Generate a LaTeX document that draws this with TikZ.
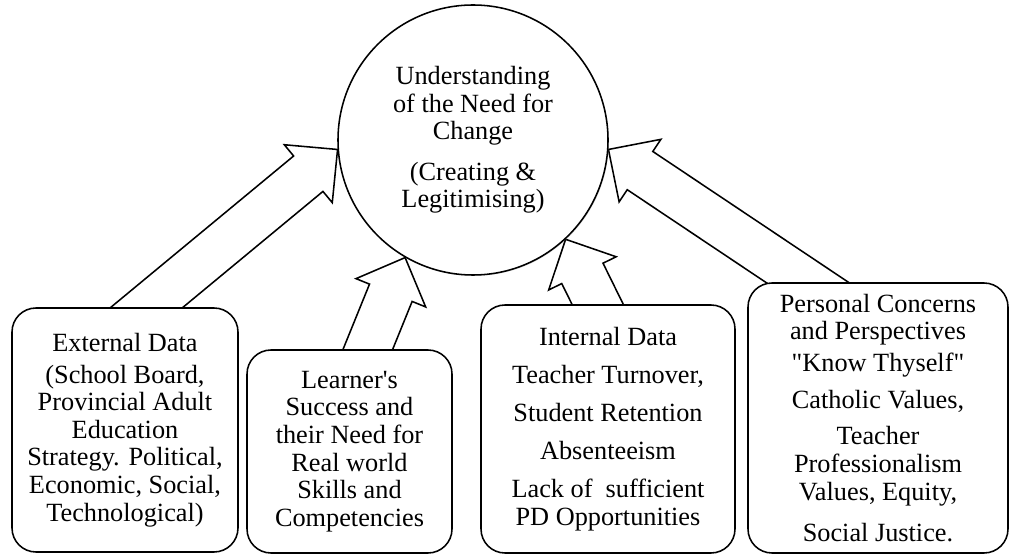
\documentclass[tikz,border=0pt]{standalone}
\usepackage{fontspec}
\setmainfont{Liberation Serif}
\usetikzlibrary{calc,backgrounds,shadows}

% sizes of the block arrows
\newcommand{\arrowshaft}{0.575cm}
\newcommand{\arrowhead}{0.94cm}
\newcommand{\arrowheadlen}{0.95cm}
% block arrow: #1 = where it leaves the box, #2 = tip on the circle
\newcommand{\blockarrow}[2]{%
  \coordinate (ba-base) at ($(#1)!-1.5cm!(#2)$);
  \coordinate (ba-neck) at ($(#2)!\arrowheadlen!(#1)$);
  \draw[blockarrow] ($(ba-base)!\arrowshaft!90:(#2)$)
    -- ($(ba-neck)!\arrowshaft!-90:(#1)$)
    -- ($(ba-neck)!\arrowhead!-90:(#1)$)
    -- (#2)
    -- ($(ba-neck)!\arrowhead!90:(#1)$)
    -- ($(ba-neck)!\arrowshaft!90:(#1)$)
    -- ($(ba-base)!\arrowshaft!-90:(#2)$) -- cycle;
}

\begin{document}
\begin{tikzpicture}[
  goalcircle/.style={draw,circle,line width=1.1pt,fill=white,minimum size=6.75cm,
    inner sep=0pt,align=center,
    drop shadow={shadow xshift=0.7pt,shadow yshift=-0.7pt,opacity=0.25}},
  factorbox/.style={draw,rounded corners=0.6cm,line width=1.1pt,fill=white,
    align=center,inner sep=0pt},
  blockarrow/.style={draw,line width=1.1pt,line join=miter,fill=white},
  font=\fontsize{18.7}{19.6}\selectfont
]
  \useasboundingbox (0,0) rectangle (25.25,13.85);

  % centre
  \node[goalcircle] (goal) at (11.825,10.35) {
    Understanding\\of the Need for\\Change\\[9pt](Creating \&\\Legitimising)
  };

  % the four sources
  \node[factorbox,minimum width=5.65cm,minimum height=6.1cm] (ext) at (3.125,3.1) {
    External Data\\[3pt](School Board,\\Provincial Adult\\Education\\
    Strategy. Political,\\Economic, Social,\\Technological)
  };
  \node[factorbox,minimum width=5.125cm,minimum height=5.075cm] (learn) at (8.7375,2.5625) {
    Learner\textquotesingle s\\Success and\\their Need for\\Real world\\
    Skills and\\Competencies
  };
  \node[factorbox,minimum width=6.35cm,minimum height=6.2cm] (int) at (15.2,3.125) {
    Internal Data\\[7.5pt]Teacher Turnover,\\[7.5pt]Student Retention\\[7.5pt]
    Absenteeism\\[7.5pt]Lack of\ \ sufficient\\PD Opportunities
  };
  \node[factorbox,minimum width=6.5cm,minimum height=6.75cm] (pers) at (21.95,3.4) {
    Personal Concerns\\and Perspectives\\[3pt]\textquotedbl Know Thyself\textquotedbl\\[6.5pt]
    Catholic Values,\\[6.5pt]Teacher\\Professionalism\\Values, Equity,\\[10pt]
    Social Justice.
  };

  % arrows into the circle
  \coordinate (ext-out) at ($(ext.north)+(0.55,0)$);
  \coordinate (learn-out) at ($(learn.north)+(0.46,0)$);
  \coordinate (int-out) at ($(int.north)+(-0.26,0)$);
  \coordinate (pers-out) at ($(pers.north)+(-1.775,0)$);
  \begin{scope}[on background layer]
    \blockarrow{ext-out}{goal.184}
    \blockarrow{learn-out}{goal.240}
    \blockarrow{int-out}{goal.313}
    \blockarrow{pers-out}{goal.356}
  \end{scope}
\end{tikzpicture}
\end{document}
